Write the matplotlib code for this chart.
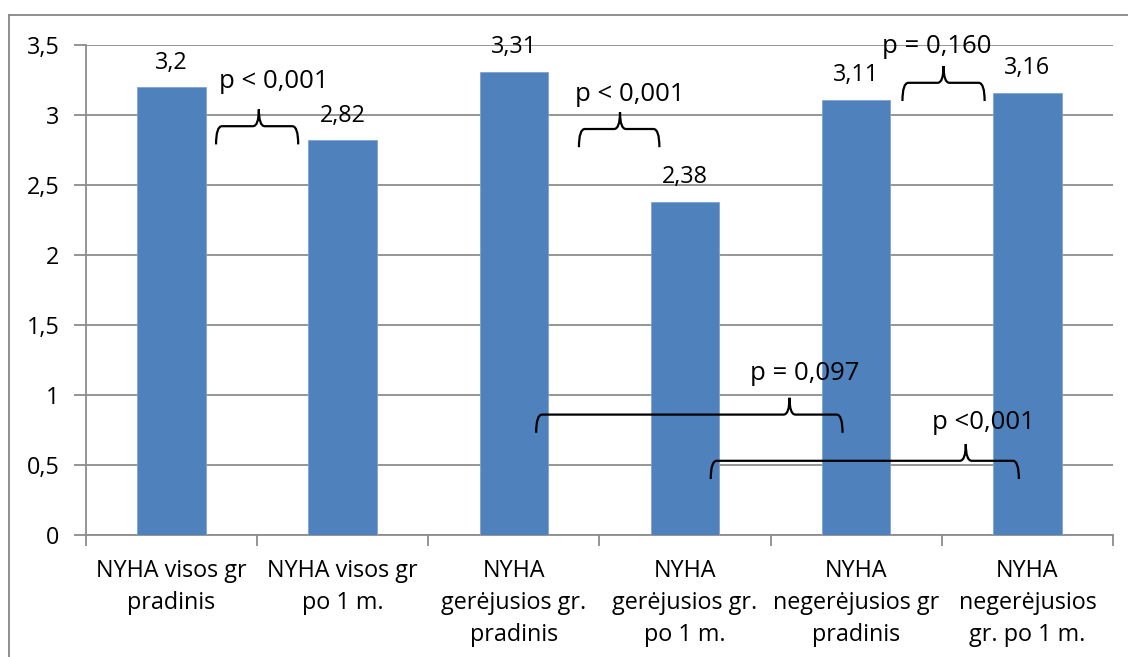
import matplotlib.pyplot as plt
from matplotlib.path import Path
from matplotlib.patches import PathPatch
from matplotlib.lines import Line2D
from matplotlib.ticker import FuncFormatter

plt.rcParams['font.family'] = ['Open Sans', 'DejaVu Sans']

categories = [
    'NYHA visos gr\npradinis',
    'NYHA visos gr\npo 1 m.',
    'NYHA\ngerėjusios gr.\npradinis',
    'NYHA\ngerėjusios gr.\npo 1 m.',
    'NYHA\nnegerėjusios gr\npradinis',
    'NYHA\nnegerėjusios\ngr. po 1 m.',
]
values = [3.2, 2.82, 3.31, 2.38, 3.11, 3.16]

# p reikšmės ir jų skliaustai: kairys kraštas, dešinys kraštas, smaigalys, aukštis
p_labels = ['p < 0,001', 'p < 0,001', 'p = 0,097', 'p <0,001', 'p = 0,160']
brace_left = [0.26, 2.38, 2.13, 3.15, 4.27]
brace_right = [0.74, 2.85, 3.92, 4.95, 4.75]
brace_mid = [0.51, 2.62, 3.61, 4.64, 4.51]
brace_y = [2.92, 2.90, 0.86, 0.53, 3.23]
# užrašų vieta
text_x = [0.60, 2.675, 3.70, 4.74, 4.47]
text_y = [3.19, 3.10, 1.11, 0.76, 3.44]

BLUE = '#4F81BD'
GRID = '#8C8C8C'

fig = plt.figure(figsize=(11.28, 6.57), dpi=100)
ax = fig.add_axes([0.0762, 0.1857, 0.9105, 0.7458])

x = list(range(len(values)))
bars = ax.bar(x, values, width=0.4, color=BLUE, edgecolor='#7FA3D3', linewidth=0.6, zorder=3)

ax.set_xlim(-0.5, len(values) - 0.5)
ax.set_ylim(0, 3.5)
ax.set_yticks([i * 0.5 for i in range(8)])
ax.yaxis.set_major_formatter(FuncFormatter(lambda v, _: f'{v:g}'.replace('.', ',')))
ax.grid(axis='y', color=GRID, linewidth=1.3, zorder=0)

ax.set_xticks(x)
ax.set_xticklabels(categories, fontsize=16.8, linespacing=1.45)
ax.set_xticks([i - 0.5 for i in range(len(values) + 1)], minor=True)
ax.tick_params(axis='x', which='major', length=0, pad=17)
ax.tick_params(axis='x', which='minor', length=8, color=GRID, width=1.3)
ax.tick_params(axis='y', length=9, color=GRID, width=1.3, labelsize=16.8, pad=10)

for side in ['top', 'right']:
    ax.spines[side].set_visible(False)
for side in ['left', 'bottom']:
    ax.spines[side].set_color(GRID)
    ax.spines[side].set_linewidth(1.3)

ax.bar_label(bars, labels=[f'{v:g}'.replace('.', ',') for v in values],
             fontsize=16.8, padding=9)


def brace(x0, x1, xm, yb):
    drop = 0.13
    rise = 0.12
    rx = 0.035
    verts = [
        (x0, yb - drop), (x0, yb), (x0 + rx, yb),
        (xm - rx, yb), (xm, yb), (xm, yb + rise),
        (xm, yb), (xm + rx, yb),
        (x1 - rx, yb), (x1, yb), (x1, yb - drop),
    ]
    codes = [
        Path.MOVETO, Path.CURVE3, Path.CURVE3,
        Path.LINETO, Path.CURVE3, Path.CURVE3,
        Path.CURVE3, Path.CURVE3,
        Path.LINETO, Path.CURVE3, Path.CURVE3,
    ]
    ax.add_patch(PathPatch(Path(verts, codes), fill=False, lw=1.6,
                           edgecolor='black', zorder=5, clip_on=False))


for x0, x1, xm, yb in zip(brace_left, brace_right, brace_mid, brace_y):
    brace(x0, x1, xm, yb)
for lab, tx, ty in zip(p_labels, text_x, text_y):
    ax.text(tx, ty, lab, fontsize=18.5, ha='center', va='baseline', zorder=6)

# rėmelis aplink visą diagramą
fig.add_artist(Line2D([9 / 1128, 9 / 1128], [0, 1 - 15 / 657], transform=fig.transFigure,
                      color='#878787', lw=1.3))
fig.add_artist(Line2D([9 / 1128, 1], [1 - 15 / 657, 1 - 15 / 657], transform=fig.transFigure,
                      color='#878787', lw=1.3))

plt.savefig('out.png', dpi=100)
